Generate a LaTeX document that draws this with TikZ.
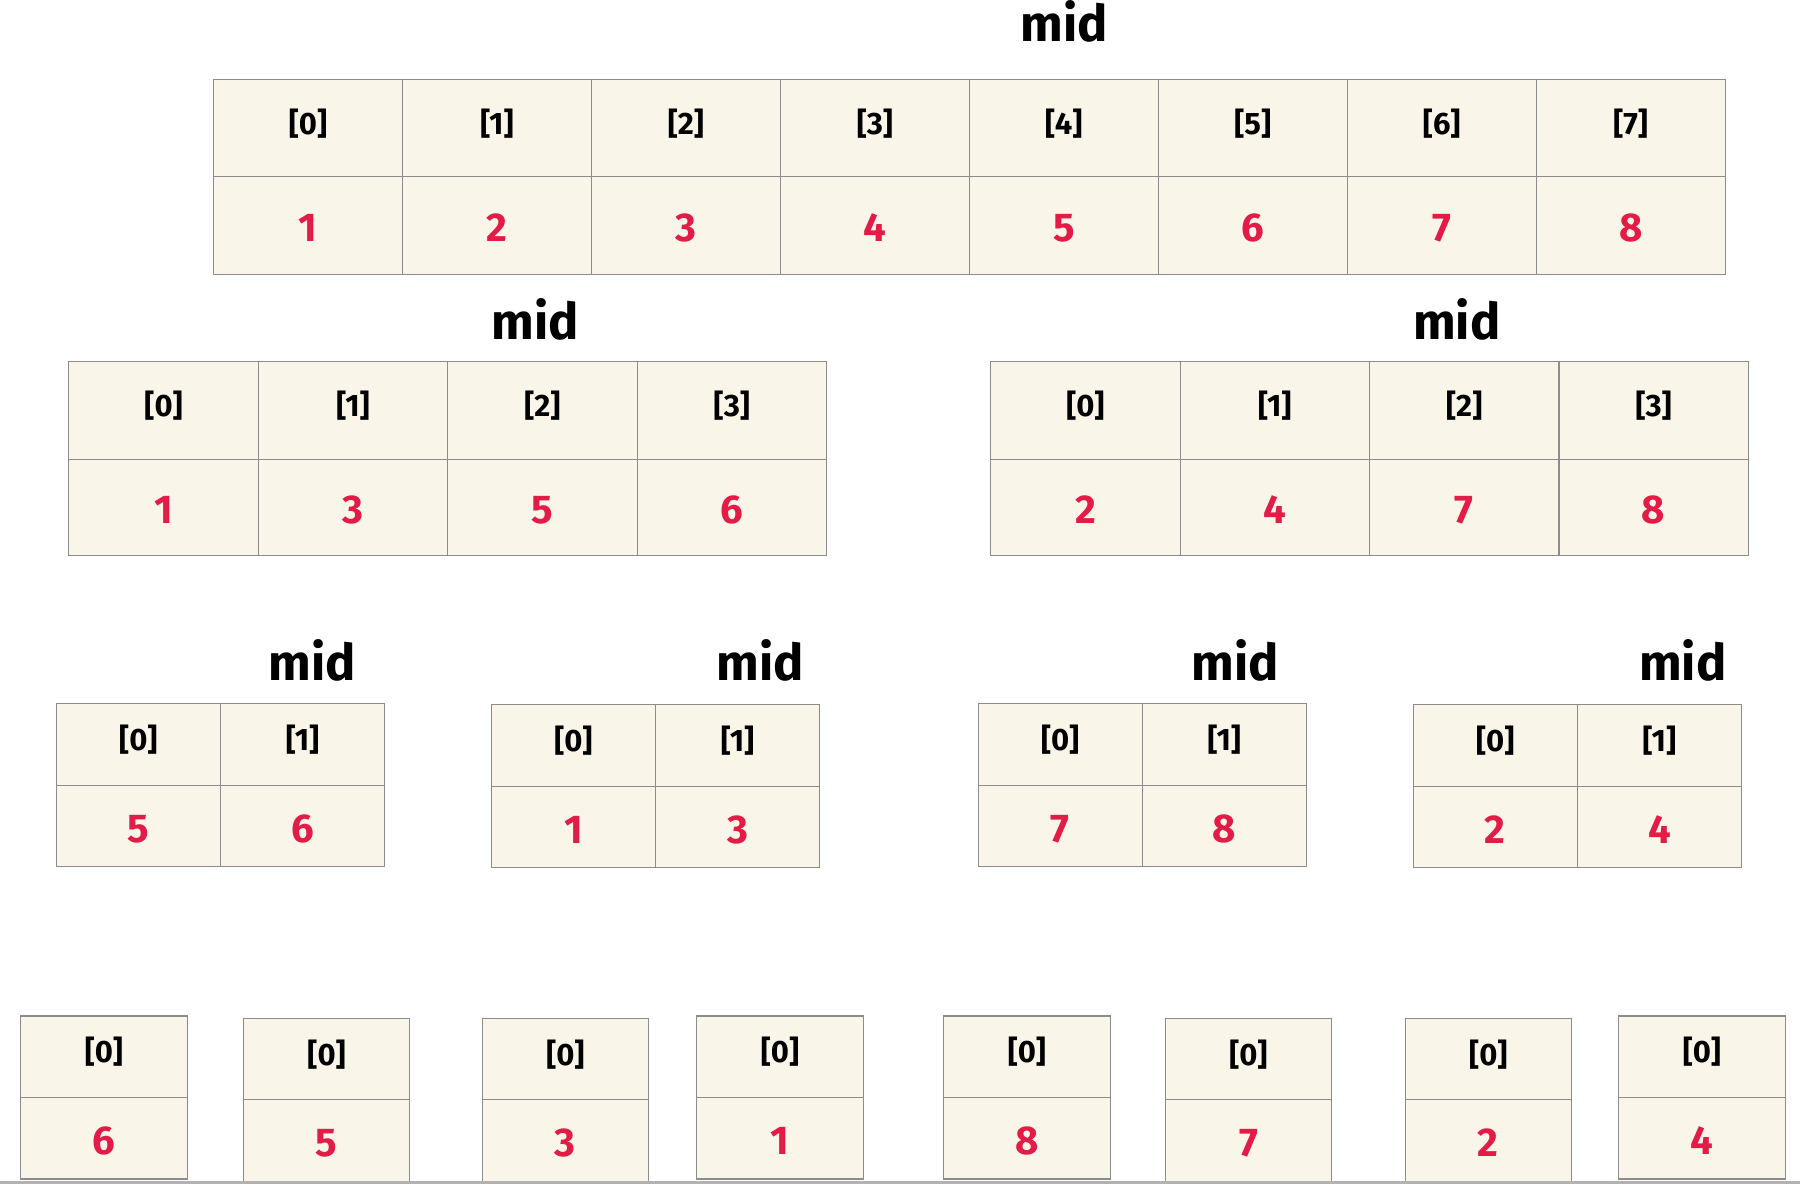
\documentclass[tikz,border=0pt]{standalone}
\usepackage{fontspec}
\setmainfont{Fira Sans}
\definecolor{cream}{HTML}{F9F6E9}
\definecolor{cellline}{HTML}{8C8C8C}
\definecolor{numred}{HTML}{E31C47}
\begin{document}
\begin{tikzpicture}[x=1pt,y=-1pt,
  cell/.style={draw=cellline, fill=cream, line width=1pt, inner sep=0pt, anchor=center},
  idxcell/.style={cell, font=\fontsize{27}{30}\selectfont\bfseries, text=black, text height=21.6pt, text depth=11pt},
  valcell/.style={cell, font=\fontsize{35}{40}\selectfont\bfseries, text=numred, text height=28pt, text depth=0pt},
  midlabel/.style={font=\fontsize{44}{48}\selectfont\bfseries, inner sep=0pt, anchor=center}]
\useasboundingbox (0,0) rectangle (1568,1031);
\fill[white] (0,0) rectangle (1568,1031);

% ---------- level 0 ----------
\node[midlabel] (mid0) at (927,18.5) {mid};
\foreach \v [count=\i from 0] in {1,2,3,4,5,6,7,8}{
  \node[idxcell, minimum width=164.6pt, minimum height=85pt] (a-i\i) at ({186+\i*164.6+82.3},111.5) {[\i]};
  \node[valcell, minimum width=164.6pt, minimum height=85pt] (a-v\i) at ({186+\i*164.6+82.3},196.5) {\v};
}

% ---------- level 1 ----------
\node[midlabel] (mid1l) at (466,278) {mid};
\node[midlabel] (mid1r) at (1269,278) {mid};
\foreach \v [count=\i from 0] in {1,3,5,6}{
  \node[idxcell, minimum width=165pt, minimum height=85pt] (bl-i\i) at ({60+\i*165+82.5},357.5) {[\i]};
  \node[valcell, minimum width=165pt, minimum height=84pt] (bl-v\i) at ({60+\i*165+82.5},442) {\v};
}
\foreach \v [count=\i from 0] in {2,4,7,8}{
  \node[idxcell, minimum width=165pt, minimum height=85pt] (br-i\i) at ({863+\i*165+82.5},357.5) {[\i]};
  \node[valcell, minimum width=165pt, minimum height=84pt] (br-v\i) at ({863+\i*165+82.5},442) {\v};
}

% ---------- level 2 ----------
\foreach \name/\x/\y/\mx/\va/\vb in {c1/49/613/272/5/6, c2/428/614/662/1/3, c3/852/613/1076/7/8, c4/1231/614/1466/2/4}{
  \node[midlabel] (\name-mid) at (\mx,575) {mid};
  \node[idxcell, minimum width=143pt, minimum height=71pt] (\name-i0) at ({\x+71.5},{\y+35.5}) {[0]};
  \node[idxcell, minimum width=143pt, minimum height=71pt] (\name-i1) at ({\x+214.5},{\y+35.5}) {[1]};
  \node[valcell, minimum width=143pt, minimum height=71pt] (\name-v0) at ({\x+71.5},{\y+106.5}) {\va};
  \node[valcell, minimum width=143pt, minimum height=71pt] (\name-v1) at ({\x+214.5},{\y+106.5}) {\vb};
}

% ---------- level 3 ----------
\foreach \name/\x/\y/\v in {d1/18/885/6, d2/212/887/5, d3/420/887/3, d4/607/885/1, d5/822/885/8, d6/1015/887/7, d7/1224/887/2, d8/1410/885/4}{
  \node[idxcell, minimum width=145pt, minimum height=71pt] (\name-i0) at ({\x+72.5},{\y+35.5}) {[0]};
  \node[valcell, minimum width=145pt, minimum height=71pt] (\name-v0) at ({\x+72.5},{\y+106.5}) {\v};
}

% bottom rule
\draw[line width=2pt, draw=black!30] (0,1030) -- (1568,1030);
\end{tikzpicture}
\end{document}
